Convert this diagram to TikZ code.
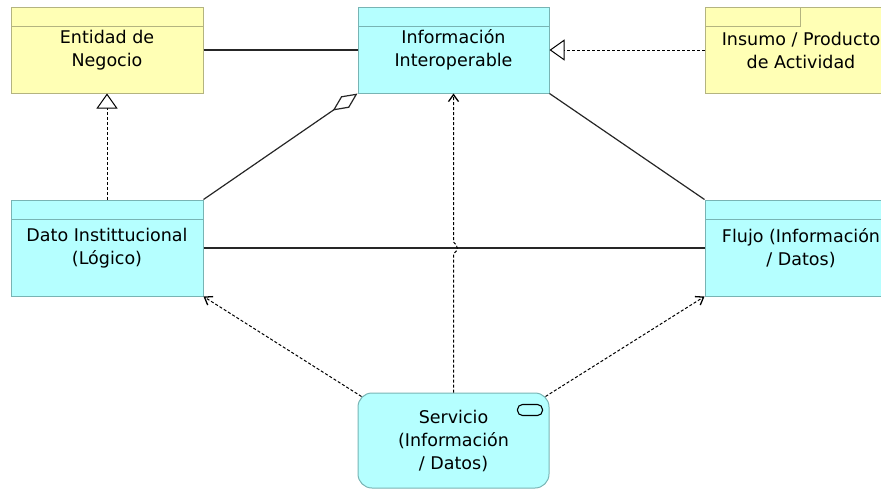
\documentclass[tikz,border=0pt]{standalone}
\usepackage{fontspec}
\setmainfont{DejaVu Sans}
\usepackage{tikz}
\usetikzlibrary{positioning,arrows.meta,calc}
\usepackage{xcolor}
\definecolor{ylwfill}{RGB}{255,255,181}
\definecolor{ylwline}{RGB}{180,180,128}
\definecolor{cyfill}{RGB}{181,255,255}
\definecolor{cyline}{RGB}{120,180,180}

\begin{document}
\begin{tikzpicture}[
    x=1pt, y=-1pt,
    font=\fontsize{17.5}{23}\selectfont,
    elem/.style    = {minimum width=192pt, minimum height=86pt, inner sep=0pt, align=center,
                      line width=1pt},
    bobj/.style    = {elem, draw=ylwline, fill=ylwfill,
                      path picture={\draw[ylwline, line width=1pt]
                        ([yshift=-19pt]path picture bounding box.north west) --
                        ([yshift=-19pt]path picture bounding box.north east);}},
    aobj/.style    = {elem, draw=cyline, fill=cyfill,
                      path picture={\draw[cyline, line width=1pt]
                        ([yshift=-19pt]path picture bounding box.north west) --
                        ([yshift=-19pt]path picture bounding box.north east);}},
    prod/.style    = {elem, draw=ylwline, fill=ylwfill,
                      path picture={\draw[ylwline, line width=1pt]
                        ([yshift=-19pt]path picture bounding box.north west) -|
                        ([xshift=-1pt]$(path picture bounding box.north west)!0.5!(path picture bounding box.north east)$);}},
    svcbox/.style  = {elem, draw=cyline, fill=cyfill, rounded corners=14pt, minimum height=95pt},
    assoc/.style   = {line width=1.2pt, draw=black!85},
    realz/.style   = {line width=1pt, dash pattern=on 3pt off 2pt,
                      -{Triangle[open, length=15pt, width=21pt, line width=1pt, fill=white, sep=0pt]}},
    aggr/.style    = {assoc, -{Diamond[open, length=30pt, width=14pt, line width=1.2pt, fill=white]}},
    accs/.style    = {line width=1pt, dash pattern=on 3pt off 2pt,
                      -{Straight Barb[length=7pt, width=10pt, line width=1.3pt]}},
]
\useasboundingbox (0,0) rectangle (881,490);

% ---------------- top row ----------------
\node[bobj] (ent) at (107,50) {Entidad de\\Negocio};
\node[aobj, right=154pt of ent, minimum width=191pt] (info) {Información\\Interoperable};
\node[prod, right=155pt of info] (ins) {Insumo / Producto\\de Actividad};

% ---------------- middle row ----------------
\node[aobj, below=106pt of ent, minimum height=96pt] (dato) {Dato Instittucional\\(Lógico)};
\node[aobj, below=106pt of ins, minimum height=96pt] (flujo) {Flujo (Información\\/ Datos)};

% ---------------- service ----------------
\node[svcbox, below=299pt of info, minimum width=191pt] (svc) {Servicio\\(Información\\/ Datos)};
\draw[line width=1.1pt, rounded corners=5pt] ([shift={(-32pt,-12pt)}]svc.north east)
    rectangle ([shift={(-7pt,-23pt)}]svc.north east);

% ---------------- relations ----------------
\draw[assoc] (ent.east) -- (info.west);
\draw[realz] (ins.west) -- (info.east);
\draw[realz] (dato.north) -- (ent.south);
\draw[aggr] (dato.north east) -- (info.south west);
\draw[assoc] (info.south east) -- (flujo.north west);
\draw[assoc] (dato.east) -- (flujo.west);

% access from the service, with a jump over the middle line
\coordinate (jmp) at (svc.north |- dato.east);
\draw[accs] (svc.north) -- ([yshift=-6pt]jmp)
    .. controls ([shift={(5pt,-2pt)}]jmp) and ([shift={(5pt,2pt)}]jmp) .. ([yshift=6pt]jmp)
    -- (info.south);
\draw[accs] ([shift={(4pt,-4pt)}]svc.north west) -- (dato.south east);
\draw[accs] ([shift={(-4pt,-4pt)}]svc.north east) -- (flujo.south west);

\end{tikzpicture}
\end{document}
